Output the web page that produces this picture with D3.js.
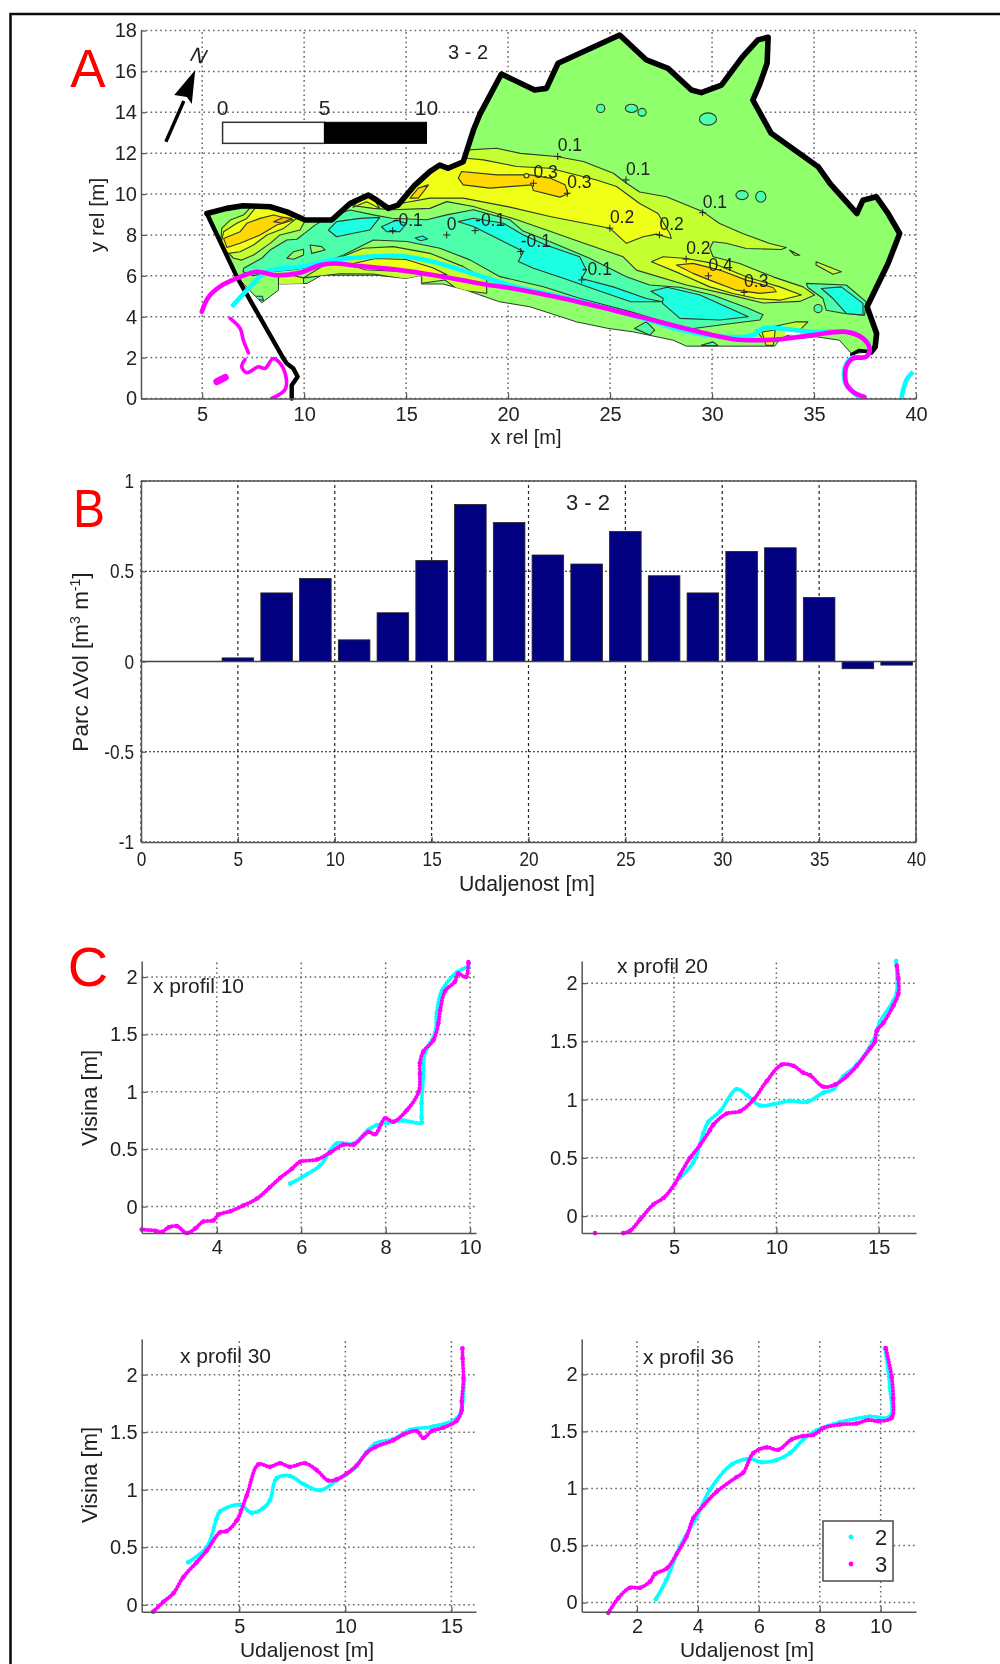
<!DOCTYPE html>
<html><head><meta charset="utf-8">
<style>html,body{margin:0;padding:0;background:#fff}svg{display:block}
text{font-family:"Liberation Sans",Arial,sans-serif;fill:#222}</style>
<script src="https://cdn.jsdelivr.net/npm/d3@7"></script></head><body>
<script>
// ---------- Panel A: contour map data (x rel, y rel in metres) ----------
const outlineMain=[[5.23,9.05],[6.2,9.3],[7.0,9.43],[8.33,9.38],[9.15,9.13],[10.05,8.73],[11.35,8.73],[12.25,9.54],[13.15,9.95],[13.56,9.7],[14.13,9.3],[14.6,9.46],[15.43,10.44],[16.16,11.1],[16.65,11.42],[17.06,11.26],[17.8,11.58],[18.3,13.13],[18.6,13.87],[19.67,15.87],[21.3,15.09],[21.88,15.17],[22.45,16.4],[25.47,17.78],[26.78,16.56],[27.84,16.15],[28.99,15.09],[29.47,14.96],[30.46,15.33],[31.5,16.72],[32.25,17.54],[32.75,17.67],[32.7,16.4],[32.35,15.4],[32.0,14.6],[32.9,12.97],[35.2,11.34],[35.8,10.5],[37.1,9.05],[37.4,9.7],[38.05,9.87],[38.63,9.05],[39.2,8.07],[38.63,6.6],[37.6,4.49],[38.07,3.18],[38,2.53],[37.8,2.28]];
const outlineLeft=[[5.23,9.05],[6.7,5.95],[8.98,1.96],[9.15,1.71],[9.47,1.47],[9.68,1.06],[9.39,0.65],[9.39,0]];
const outlineTip=[[37.8,2.28],[37.2,2.35],[36.85,2.15]];
const lowerEdge=[[36.83,2.2],[36.25,2.85],[35.1,3.02],[33.3,2.85],[33.07,2.56],[28.74,2.56],[28.1,2.85],[26.13,3.26],[24.9,3.43],[23.35,3.75],[21.06,4.49],[19.58,4.73],[17.95,5.3],[16.8,5.6],[15.75,5.6],[15.75,6.03],[15.0,5.87],[13.55,6.03],[10.86,6.03],[10.15,5.63],[8.74,5.6],[8.74,5.3],[7.92,4.68],[6.7,5.95]];
const mintMain=[[7.03,6.37],[7.92,6.86],[8.33,7.26],[9.15,7.75],[9.64,7.79],[10.13,8.16],[10.53,8.48],[11.27,8.9],[12.25,9.22],[13.39,8.98],[14.29,8.82],[16.01,8.74],[16.99,8.98],[18.3,9.23],[20.09,8.74],[20.74,8.19],[22.04,7.68],[24.0,6.86],[25.8,5.96],[26.94,5.55],[28.41,5.44],[30.05,5.05],[31.68,4.45],[32.5,4.1],[32.35,3.84],[31.05,3.68],[28.9,3.4],[27.0,3.95],[25.98,4.25],[23.5,4.9],[21.73,5.47],[19.6,5.96],[18.13,6.78],[16.66,7.35],[15.03,7.68],[13.39,7.75],[11.93,7.02],[10.62,6.5],[9.48,6.3],[8.3,6.2],[7.5,6.0],[7.0,6.2]];
const mintRight=[[34.62,5.63],[36.58,5.55],[37.56,4.73],[37.48,4.08],[36.5,4.16],[35.6,4.32],[35.44,4.89],[34.7,5.43]];
const mintBottomA=[[26.2,3.43],[26.78,3.75],[27.19,3.34],[26.94,3.1]];
const mintBottomB=[[29.47,2.6],[30.05,2.77],[30.3,2.58]];
const greenInletA=[[10.29,7.51],[10.86,7.43],[11.03,7.26],[10.37,7.1]];
const greenInletB=[[9.15,6.86],[9.48,7.18],[9.97,7.3],[9.97,7.02],[9.48,6.81]];
const cyanMain=[[17.56,8.65],[18.3,8.82],[19.77,8.57],[20.75,8.0],[21.88,7.5],[23.51,6.93],[23.84,6.28],[23.6,5.87],[25.15,5.46],[26.78,4.89],[27.57,4.73],[25.98,4.74],[24.34,5.31],[22.71,5.88],[21.24,6.37],[20.5,6.7],[20.75,7.19],[19.28,7.92],[18.3,8.41]];
const cyanEast=[[27,5.25],[27.8,5.44],[29.41,5.06],[31.78,4.0],[30.39,3.84],[28.43,3.92],[27.57,4.65],[27.6,4.9]];
const cyanWestA=[[11.18,8.24],[11.59,8.65],[12.73,8.81],[13.71,8.86],[13.22,8.24],[12.41,8.08],[11.59,7.91]];
const cyanWestB=[[13.79,8.4],[14.53,8.73],[15.02,8.56],[14.69,8.16],[14.04,8.16]];
const cyanWestC=[[15.45,7.85],[15.8,7.95],[16.05,7.8],[15.7,7.72]];
const cyanRight=[[35.36,5.38],[36.34,5.46],[37.4,4.65],[37.4,4.08],[36.58,4.16],[35.93,4.89]];
const cyanTip=[[7.5,5.0],[7.95,5.0],[8.0,4.8],[7.7,4.85]];
const limeMain=[[18.05,12.16],[19.44,12.24],[20.6,11.99],[22.38,11.84],[23.69,11.59],[25.16,11.02],[25.81,10.53],[26.45,10.1],[27.76,9.87],[29.56,9.13],[30.37,8.56],[31.5,8.07],[32.83,7.58],[33.64,7.39],[33.4,7.29],[31.68,7.34],[30.7,7.59],[30.05,7.67],[29.89,7.34],[30.05,6.93],[31.36,6.6],[32.99,5.95],[34.46,5.46],[35.03,5.06],[34.3,4.75],[32.5,4.67],[30.87,5.07],[28.74,5.55],[26.29,6.28],[25.64,6.93],[23.51,7.67],[21.88,8.24],[20.25,8.8],[18.3,9.39],[16.99,9.63],[16.17,9.3],[14.37,9.23],[13.39,9.3],[12.25,9.45],[11.9,9.3],[12.3,10.4],[17.5,12.5]];
const limeLeft=[[5.96,8.32],[6.37,8.73],[7.03,8.98],[7.52,9.5],[8.66,9.5],[10.13,8.85],[9.8,8.24],[8.82,8.0],[8.33,7.59],[7.52,7.02],[6.94,6.77],[6.54,6.86],[5.9,7.5]];
const limeStrip=[[9.97,5.9],[11.27,6.7],[12.9,7.35],[14.37,7.43],[16.17,7.1],[17.8,6.45],[18.95,5.8],[18.95,5.15],[17.56,5.31],[16.9,5.8],[15.76,5.64],[15.76,5.96],[15.03,5.83],[13.39,6.09],[11.76,6.1]];
const limePatchA=[[8.74,5.95],[9.3,6.05],[9.97,5.9],[9.97,5.5],[8.74,5.55]];
const limePatchB=[[32.17,3.34],[34.12,3.75],[34.7,3.75],[34.3,3.34],[33.3,2.9],[32.5,2.9]];
const limePatchC=[[35.1,6.69],[36.34,6.2],[35.93,6.08],[35.1,6.53]];
const limePatchD=[[33.8,7.26],[34.3,7.01],[34.05,7.01]];
const yellowMain=[[17.97,11.75],[18.79,11.67],[20.42,11.35],[22.05,11.26],[24.34,10.69],[25.32,10.37],[26.45,9.54],[27.35,9.05],[27.93,8.07],[28.0,7.83],[27.27,8.04],[26.62,7.91],[25.8,7.59],[24.99,8.33],[22.05,8.9],[20.09,9.36],[17.8,9.8],[16.17,9.8],[14.78,9.55],[15.5,10.8],[16.5,11.8]];
const yellowHot=[[27.03,6.69],[27.6,6.93],[28.74,6.85],[30.05,6.61],[31.68,5.95],[33.32,5.46],[34.38,5.06],[33.32,4.81],[32.17,4.89],[31.03,5.14],[29.89,5.46],[28.41,6.12]];
const yellowTip=[[12.4,9.35],[13.06,9.62],[13.7,9.3],[13.1,10.3]];
const yellowLeft=[[6.05,8.16],[6.7,8.57],[7.19,8.81],[7.76,9.5],[8.66,9.5],[9.64,8.81],[8.99,8.32],[8.17,8.0],[7.52,7.51],[6.86,7.18],[6.29,7.1],[5.9,7.4]];
const yellowStrip=[[12.2,6.55],[13.5,6.85],[15,6.8],[16.3,6.4],[17,6.05],[16.3,6.05],[15,6.2],[13,6.3]];
const yellowPatch=[[32.45,3.25],[33.1,3.35],[33.0,2.6],[32.65,2.6]];
const goldMain=[[17.72,11.1],[19.44,10.94],[21.07,10.94],[22.05,10.78],[22.79,10.45],[22.95,10.01],[22.54,9.85],[21.24,10.17],[21.16,10.45],[19.11,10.29],[17.8,10.45],[17.56,10.78]];
const goldHot=[[28.25,6.53],[29.07,6.61],[30.38,6.28],[31.68,5.79],[32.99,5.43],[33.15,5.22],[32.34,5.14],[31.19,5.3],[29.89,5.79],[29.07,6.12]];
const goldTip=[[15.19,9.8],[15.6,10.29],[16.09,10.45],[15.85,10.12],[15.6,9.8]];
const goldLeft=[[6.05,7.83],[6.86,8.16],[7.19,8.57],[7.84,8.81],[8.5,8.98],[9.48,8.73],[8.66,8.49],[7.84,8.0],[6.86,7.59],[6.21,7.39]];
const orangeLeft=[[8.5,8.65],[8.99,8.86],[9.39,8.81],[8.9,8.57]];
const holePatch=[[33.55,3.32],[34.35,3.3],[34.3,3.12],[33.6,3.12]];
const mintSpots=[[24.54,14.19,.2,.2],[26.05,14.19,.3,.2],[26.57,14.0,.2,.19],[29.8,13.67,.42,.3],[31.47,9.95,.3,.22],[32.39,9.87,.25,.27],[35.2,4.4,.2,.2]];
const limeSpots=[[20.9,10.9,.12,.1]];
const contourLabels=[["-0.1",14.34,8.21],["0",16.99,8.0],["-0.1",18.38,8.21],["-0.1",20.62,7.19],["-0.1",23.61,5.8],["0.1",22.43,11.84],["0.3",21.24,10.53],["0.3",22.9,10.04],["0.2",24.99,8.33],["0.1",25.78,10.69],["0.1",29.54,9.09],["0.2",27.42,8.0],["0.2",28.73,6.82],["0.4",29.82,6.0],["0.3",31.57,5.19]];
const shorelineCyan=[[6.45,4.49],[7.35,5.46],[8.16,6.2],[9.8,6.44],[11.43,6.77],[13.06,6.93],[14.69,6.97],[16.32,6.69],[18.6,6.0],[20.25,5.5],[22.7,4.95],[26.78,3.87],[28.4,3.38],[30.54,3.02],[32,3.1],[32.5,3.43],[33.3,3.43],[34.95,3.26],[36.58,3.26],[37.4,2.94],[37.72,2.45],[37.56,2.04],[36.9,2.0],[36.5,1.5],[36.55,.73],[36.9,.33],[37.3,0]];
const shoreCyanFar=[[39.28,0],[39.53,.9],[39.85,1.3]];
const shorelineMagenta=[[4.98,4.24],[5.31,4.96],[5.96,5.53],[6.86,5.95],[7.68,6.2],[8.65,6.03],[9.8,6.15],[10.77,6.52],[11.43,6.6],[12.73,6.48],[14.69,6.28],[16.32,6.04],[18.6,5.63],[20.25,5.38],[22.7,4.89],[25.15,4.32],[26.78,3.92],[28.4,3.5],[30.05,3.1],[31.03,2.9],[32.17,2.85],[33.3,2.89],[34.95,3.1],[36.58,3.26],[37.4,2.94],[37.72,2.45],[37.56,2.04],[36.9,1.96],[36.58,1.55],[36.58,.73],[36.9,.33],[37.47,.08]];
const shoreMagentaA=[[6.37,3.92],[6.86,3.43],[7.02,2.85],[7.27,2.23]];
const shoreMagentaB=[[7.1,1.91],[6.94,1.55],[7.19,1.26],[7.76,1.55],[8.08,1.47],[8.49,1.96],[8.98,1.47],[9.09,.49],[8.41,0]];
const shoreMagentaC=[[5.72,.82],[6.13,1.03]];
const northShaft=[[3.22,12.56],[4.1,14.55]];
const northHead=[[4.66,16.07],[3.63,14.84],[4.25,14.75],[4.49,14.4]];
const scaleBarEdges=[6,11,16];
const scaleBarRange=[12.48,13.51];
const scaleBarLabels=["0","5","10"];
// ---------- Panel B ----------
const barCenters=[5,7,9,11,13,15,17,19,21,23,25,27,29,31,33,35,37,39];
const barValues=[.02,.38,.46,.12,.27,.56,.87,.77,.59,.54,.72,.475,.38,.61,.63,.355,-.04,-.02];
// ---------- Panel C profiles ----------
const p10c=[[5.74,.20],[6.13,.28],[6.45,.36],[6.84,.55],[7.24,.55],[7.59,.67],[7.79,.71],[8.06,.73],[8.41,.75],[8.85,.73],[8.85,.78],[8.85,.90],[8.89,1.13],[8.93,1.34],[9.17,1.51],[9.21,1.69],[9.33,1.88],[9.68,2.04],[9.96,2.09]];
const p10m=[[2.22,-.20],[2.54,-.21],[2.70,-.22],[2.86,-.18],[3.05,-.17],[3.29,-.23],[3.49,-.19],[3.68,-.13],[3.92,-.12],[4.04,-.07],[4.32,-.04],[4.63,.01],[4.95,.07],[5.26,.17],[5.50,.25],[5.78,.33],[5.97,.39],[6.37,.41],[6.68,.47],[7.00,.54],[7.24,.54],[7.59,.65],[7.75,.63],[7.99,.77],[8.18,.74],[8.50,.84],[8.78,1.0],[8.81,1.16],[8.81,1.25],[8.89,1.35],[9.13,1.45],[9.25,1.60],[9.29,1.71],[9.41,1.88],[9.64,1.96],[9.72,2.03],[9.90,2.0],[9.96,2.13]];
const p20c=[[5.29,.33],[5.94,.46],[6.43,.71],[6.68,.81],[7.25,.90],[8.06,1.09],[8.55,1.04],[9.2,.95],[9.85,.96],[10.67,.99],[11.48,.98],[12.3,1.06],[12.78,1.09],[13.27,1.20],[13.93,1.30],[14.74,1.51],[15.07,1.67],[15.72,1.85],[15.88,1.92],[15.85,2.19]];
const p20m=[[2.52,-.146],[2.85,-.126],[3.34,-.03],[3.99,.10],[4.48,.155],[5.05,.28],[5.29,.355],[5.78,.50],[6.27,.61],[6.76,.74],[6.92,.785],[7.57,.88],[8.22,.90],[8.88,1.0],[9.53,1.16],[10.26,1.30],[10.83,1.29],[11.32,1.23],[11.64,1.21],[12.3,1.11],[12.87,1.13],[13.44,1.20],[13.93,1.29],[14.58,1.44],[14.82,1.50],[14.9,1.59],[15.23,1.66],[15.72,1.81],[15.96,1.91],[15.96,2.04],[15.88,2.15]];
const p20mStart=[[1.14,-.146]];
const p30c=[[2.59,.37],[3.46,.50],[3.93,.75],[4.09,.81],[5.03,.87],[5.58,.80],[6.13,.84],[6.45,.91],[6.76,1.10],[7.39,1.12],[8.02,1.05],[8.81,.996],[9.59,1.08],[10.38,1.18],[11.4,1.40],[12.26,1.44],[13.05,1.52],[14.15,1.55],[15.25,1.62],[15.49,1.71],[15.6,1.95]];
const p30m=[[.94,-.06],[1.42,.025],[1.89,.10],[2.36,.24],[2.99,.37],[3.46,.47],[4.09,.63],[4.40,.64],[4.87,.73],[5.35,.95],[5.90,1.22],[6.45,1.20],[6.92,1.23],[7.39,1.20],[8.10,1.23],[8.65,1.17],[9.2,1.08],[9.59,1.09],[10.06,1.14],[10.53,1.21],[11.0,1.32],[11.4,1.37],[12.26,1.43],[12.74,1.48],[13.36,1.51],[13.68,1.45],[14.07,1.51],[14.62,1.54],[15.25,1.60],[15.49,1.69],[15.49,1.77],[15.57,1.97],[15.53,2.14],[15.52,2.23]];
const p36c=[[2.62,.03],[2.97,.20],[3.41,.49],[3.96,.75],[4.40,.99],[5.11,1.21],[5.71,1.26],[6.09,1.23],[6.58,1.25],[7.02,1.31],[7.46,1.43],[7.90,1.51],[8.66,1.58],[9.64,1.63],[10.30,1.63],[10.30,1.89],[10.14,2.23]];
const p36m=[[1.06,-.09],[1.39,.04],[1.77,.13],[2.10,.13],[2.43,.185],[2.59,.25],[2.98,.30],[3.31,.43],[3.63,.58],[3.85,.74],[4.18,.85],[4.61,.97],[5.27,1.10],[5.49,1.14],[5.82,1.31],[6.26,1.36],[6.64,1.34],[7.08,1.43],[7.46,1.46],[7.79,1.47],[8.12,1.53],[8.66,1.56],[9.21,1.57],[9.59,1.60],[9.92,1.59],[10.36,1.62],[10.41,1.79],[10.36,1.98],[10.17,2.23]];
const profileNames=["x profil 10","x profil 20","x profil 30","x profil 36"];
const legendLabels=["2","3"];

// ---------- colours ----------
const C={base:"#8fff6c",mint:"#4dffab",cyan:"#1cffe0",lime:"#c4ff32",yellow:"#efff12",gold:"#ffd800",orange:"#ffb400",lc:"#00ffff",lm:"#ff00ff",grid:"#666",ax:"#555",line:"#2d3a2d"};

const svg=d3.select("body").append("svg").attr("width",1000).attr("height",1664);
const defs=svg.append("defs");
const blur=defs.append("filter").attr("id","soft").attr("filterUnits","userSpaceOnUse").attr("x",0).attr("y",0).attr("width",1000).attr("height",1664);
blur.append("feGaussianBlur").attr("stdDeviation",0.55);
const root=svg.append("g").attr("filter","url(#soft)");
root.append("rect").attr("width",1000).attr("height",1664).attr("fill","#fff");
// picture frame (top and left only)
root.append("path").attr("d","M10.5,1664V14H1000").attr("fill","none").attr("stroke","#111").attr("stroke-width",2.6);

function styleAxis(g,size){
  g.selectAll(".domain").attr("stroke",C.ax).attr("stroke-width",1.5);
  g.selectAll(".tick line").attr("stroke",C.ax).attr("stroke-width",1.2);
  g.selectAll("text").attr("font-size",size||20).attr("font-family","Liberation Sans").attr("fill","#222");
}
function squeeze(g,k){g.selectAll("text").each(function(){const n=this.getComputedTextLength();d3.select(this).attr("textLength",n*k).attr("lengthAdjust","spacingAndGlyphs");});}
function frame(o){
  const g=root.append("g");
  const [xa,xb]=o.x.range(),[yb,ya]=o.y.range();
  g.append("g").selectAll("line").data(o.xt).join("line")
   .attr("x1",d=>o.x(d)).attr("x2",d=>o.x(d)).attr("y1",yb).attr("y2",ya)
   .attr("stroke",o.color||C.grid).attr("stroke-width",o.w||1.5).attr("stroke-dasharray",o.dashV||"1.6,3.2");
  g.append("g").selectAll("line").data(o.yt).join("line")
   .attr("y1",d=>o.y(d)).attr("y2",d=>o.y(d)).attr("x1",xa).attr("x2",xb)
   .attr("stroke",o.color||C.grid).attr("stroke-width",o.w||1.5).attr("stroke-dasharray",o.dashH||"1.6,3.2");
  return g;
}
function axes(o,parent){
  const [xa,xb]=o.x.range(),[yb,ya]=o.y.range();
  const fmt=d=>String(d);
  const ax=parent.append("g").attr("transform",`translate(0,${yb})`)
    .call(d3.axisBottom(o.x).tickValues(o.xt).tickFormat(fmt).tickSize(-5).tickPadding(o.padX||8).tickSizeOuter(0)).call(styleAxis,o.size);
  const ay=parent.append("g").attr("transform",`translate(${xa},0)`)
    .call(d3.axisLeft(o.y).tickValues(o.yt).tickFormat(fmt).tickSize(-5).tickPadding(o.padY||4).tickSizeOuter(0)).call(styleAxis,o.size);
  if(o.squeeze){squeeze(ax,o.squeeze);squeeze(ay,o.squeeze);}
}
function label(t,x,y,o={}){
  const e=root.append("text").attr("x",x).attr("y",y).attr("font-size",o.size||20).attr("text-anchor",o.anchor||"middle").text(t);
  if(o.rotate)e.attr("transform",`rotate(${o.rotate} ${x} ${y})`);
  if(o.len)e.attr("textLength",o.len).attr("lengthAdjust","spacingAndGlyphs");
  if(o.color)e.style("fill",o.color);
  return e;
}

// ================= PANEL A =================
const xA=d3.scaleLinear([2,40],[141,916]), yA=d3.scaleLinear([0,18],[398.5,30.5]);
const ptA=p=>[xA(p[0]),yA(p[1])];
const lineA=d3.line().x(d=>xA(d[0])).y(d=>yA(d[1]));
const smoothA=d3.line().x(d=>xA(d[0])).y(d=>yA(d[1])).curve(d3.curveCatmullRom.alpha(.5));
const closedA=d3.line().x(d=>xA(d[0])).y(d=>yA(d[1])).curve(d3.curveLinearClosed);
const xtA=[5,10,15,20,25,30,35,40], ytA=d3.range(0,19,2);
frame({x:xA,y:yA,xt:xtA,yt:ytA});

const region=outlineMain.concat(lowerEdge);
defs.append("clipPath").attr("id","regionClip").append("path").attr("d",closedA(region));
defs.append("clipPath").attr("id","boxA").append("rect").attr("x",141).attr("y",30).attr("width",776).attr("height",369);
root.append("path").attr("d",closedA(region)).attr("fill",C.base).attr("stroke",C.line).attr("stroke-width",1);
const cg=root.append("g").attr("clip-path","url(#regionClip)");
const layers=[
 [C.mint,[mintMain,mintRight,mintBottomA,mintBottomB]],
 [C.base,[greenInletA,greenInletB]],
 [C.cyan,[cyanMain,cyanEast,cyanWestA,cyanWestB,cyanWestC,cyanRight,cyanTip]],
 [C.lime,[limeMain,limeLeft,limeStrip,limePatchA,limePatchB,limePatchC,limePatchD]],
 [C.yellow,[yellowMain,yellowHot,yellowTip,yellowLeft,yellowStrip,yellowPatch]],
 [C.gold,[goldMain,goldHot,goldTip,goldLeft]],
 [C.orange,[orangeLeft]],
 ["#fff",[holePatch]]
];
layers.forEach(([col,polys])=>{
  cg.append("g").selectAll("path").data(polys).join("path").attr("d",closedA)
    .attr("fill",col).attr("stroke",col==="#fff"?"none":C.line).attr("stroke-width",1.1).attr("stroke-linejoin","round");
});
[[C.mint,mintSpots],[C.yellow,limeSpots]].forEach(([col,s])=>{
  cg.append("g").selectAll("ellipse").data(s).join("ellipse")
   .attr("cx",d=>xA(d[0])).attr("cy",d=>yA(d[1]))
   .attr("rx",d=>xA(d[2])-xA(0)).attr("ry",d=>yA(0)-yA(d[3]))
   .attr("fill",col).attr("stroke",C.line).attr("stroke-width",1.1);
});
// thick outline
[[outlineMain,5.6],[outlineLeft,4.4],[outlineTip,3.6]].forEach(([p,w])=>{
  root.append("path").attr("d",lineA(p)).attr("fill","none").attr("stroke","#000").attr("stroke-width",w).attr("stroke-linejoin","round").attr("stroke-linecap","round");
});
// contour labels
const lb=root.append("g");
lb.selectAll("g").data(contourLabels).join("g").each(function(d){
  const [px,py]=ptA([d[1],d[2]]); const g=d3.select(this);
  g.append("path").attr("d",`M${px-3.5},${py}H${px+3.5}M${px},${py-3.5}V${py+3.5}`).attr("stroke","#222").attr("stroke-width",1);
  g.append("text").attr("x",px).attr("y",py-5).attr("font-size",17.5).text(d[0]);
});
// shoreline traces
const sh=root.append("g").attr("clip-path","url(#boxA)");
[shorelineCyan,shoreCyanFar].forEach(p=>sh.append("path").attr("d",smoothA(p)).attr("fill","none").attr("stroke",C.lc).attr("stroke-width",4.6).attr("stroke-linejoin","round"));
[[shorelineMagenta,4.6],[shoreMagentaA,3.6],[shoreMagentaB,3.6],[shoreMagentaC,7]].forEach(([p,w])=>sh.append("path").attr("d",smoothA(p)).attr("fill","none").attr("stroke",C.lm).attr("stroke-width",w).attr("stroke-linejoin","round").attr("stroke-linecap","round"));
axes({x:xA,y:yA,xt:xtA,yt:ytA},root);
// north arrow
root.append("path").attr("d",lineA(northShaft)).attr("stroke","#000").attr("stroke-width",3.4).attr("fill","none");
root.append("path").attr("d",closedA(northHead)).attr("fill","#000");
root.append("text").attr("transform",`translate(${xA(4.68)},${yA(16.45)}) rotate(14) skewX(-14)`).attr("font-size",21).attr("text-anchor","middle").text("N");
// scale bar
root.append("rect").attr("x",xA(scaleBarEdges[0])).attr("width",xA(scaleBarEdges[1])-xA(scaleBarEdges[0])).attr("y",yA(scaleBarRange[1])).attr("height",yA(scaleBarRange[0])-yA(scaleBarRange[1])).attr("fill","#fff").attr("stroke","#333").attr("stroke-width",1.5);
root.append("rect").attr("x",xA(scaleBarEdges[1])).attr("width",xA(scaleBarEdges[2])-xA(scaleBarEdges[1])).attr("y",yA(scaleBarRange[1])).attr("height",yA(scaleBarRange[0])-yA(scaleBarRange[1])).attr("fill","#000").attr("stroke","#000").attr("stroke-width",1);
scaleBarEdges.forEach((v,i)=>label(scaleBarLabels[i],xA(v),115,{size:21}));
label("3 - 2",468,59,{size:20});
label("x rel [m]",526,444,{size:20});
label("y rel [m]",104,215,{size:21,rotate:-90});
label("A",88,87,{size:53,color:"#ff0000"});

// ================= PANEL B =================
const xB=d3.scaleLinear([0,40],[141,916]), yB=d3.scaleLinear([-1,1],[842,481]);
const xtB=d3.range(0,41,5), ytB=[-1,-.5,0,.5,1];
frame({x:xB,y:yB,xt:xtB,yt:ytB,color:"#222",w:1.2,dashV:"3,3",dashH:"2,2"});
const barW=xB(1.63)-xB(0);
root.append("g").selectAll("rect").data(barCenters).join("rect")
 .attr("x",d=>xB(d)-barW/2).attr("width",barW)
 .attr("y",(d,i)=>yB(Math.max(0,barValues[i]))).attr("height",(d,i)=>Math.abs(yB(barValues[i])-yB(0)))
 .attr("fill","#000080").attr("stroke","#222").attr("stroke-width",.8);
root.append("line").attr("x1",141).attr("x2",916).attr("y1",yB(0)).attr("y2",yB(0)).attr("stroke","#444").attr("stroke-width",1.5);
root.append("path").attr("d",`M141,481H916V842`).attr("fill","none").attr("stroke",C.ax).attr("stroke-width",1.5);
axes({x:xB,y:yB,xt:xtB,yt:ytB,squeeze:.82,padX:9,padY:7,size:21},root);
label("3 - 2",588,510,{size:22,len:44});
label("Udaljenost [m]",527,891,{size:22,len:136});
const yl=label("",88,662,{size:22.5,rotate:-90});
yl.append("tspan").text("Parc ");
yl.append("tspan").attr("font-size",19).text("\u0394");
yl.append("tspan").text("Vol [m");
yl.append("tspan").attr("font-size",14).attr("dy",-8).text("3");
yl.append("tspan").attr("dy",8).text(" m");
yl.append("tspan").attr("font-size",14).attr("dy",-8).text("-1");
yl.append("tspan").attr("dy",8).text("]");
label("B",89,527,{size:53,len:32,color:"#ff0000"});

// ================= PANEL C =================
const panels=[
 {name:profileNames[0],xd:[2.22,10.14],yd:[-.23,2.14],xr:[141.7,476],yr:[1233,961],xt:[4,6,8,10],yt:[0,.5,1,1.5,2],c:[p10c],m:[p10m],tx:153,ty:993,yl:1098},
 {name:profileNames[1],xd:[.49,16.82],yd:[-.145,2.19],xr:[581.7,916],yr:[1233,961],xt:[5,10,15],yt:[0,.5,1,1.5,2],c:[p20c],m:[p20m,p20mStart],tx:617,ty:973},
 {name:profileNames[2],xd:[.4,16.16],yd:[-.06,2.31],xr:[141.7,476],yr:[1611.7,1339],xt:[5,10,15],yt:[0,.5,1,1.5,2],c:[p30c],m:[p30m],tx:180,ty:1363,yl:1475,xl:307},
 {name:profileNames[3],xd:[.185,11.16],yd:[-.08,2.31],xr:[581.7,916],yr:[1611.7,1339],xt:[2,4,6,8,10],yt:[0,.5,1,1.5,2],c:[p36c],m:[p36m],tx:643,ty:1364,xl:747}
];
panels.forEach(P=>{
  const x=d3.scaleLinear(P.xd,P.xr), y=d3.scaleLinear(P.yd,P.yr);
  frame({x,y,xt:P.xt,yt:P.yt});
  const ln=d3.line().x(d=>x(d[0])).y(d=>y(d[1])).curve(d3.curveCatmullRom.alpha(.5));
  [[P.c,C.lc,"0.1,2.9"],[P.m,C.lm,"0.1,3.1"]].forEach(([sets,col,dash])=>sets.forEach(s=>{
    root.append("path").attr("d",ln(s)).attr("fill","none").attr("stroke",col).attr("stroke-width",4).attr("stroke-dasharray",dash).attr("stroke-linecap","round");
    root.append("g").selectAll("circle").data(s).join("circle").attr("cx",d=>x(d[0])).attr("cy",d=>y(d[1])).attr("r",2.3).attr("fill",col);
  }));
  axes({x,y,xt:P.xt,yt:P.yt,padX:7},root);
  label(P.name,P.tx,P.ty,{size:21,anchor:"start"});
  if(P.yl)label("Visina [m]",97,P.yl,{size:22,rotate:-90});
  if(P.xl)label("Udaljenost [m]",P.xl,1657,{size:21});
});
label("C",88,986,{size:56,color:"#ff0000"});
// legend
root.append("rect").attr("x",823).attr("y",1521).attr("width",70).attr("height",60).attr("fill","#fff").attr("stroke",C.ax).attr("stroke-width",1.6);
[[C.lc,1537],[C.lm,1564]].forEach((d,i)=>{
  root.append("circle").attr("cx",851).attr("cy",d[1]).attr("r",2.4).attr("fill",d[0]);
  label(legendLabels[i],881,d[1]+8,{size:22});
});
</script></body></html>
